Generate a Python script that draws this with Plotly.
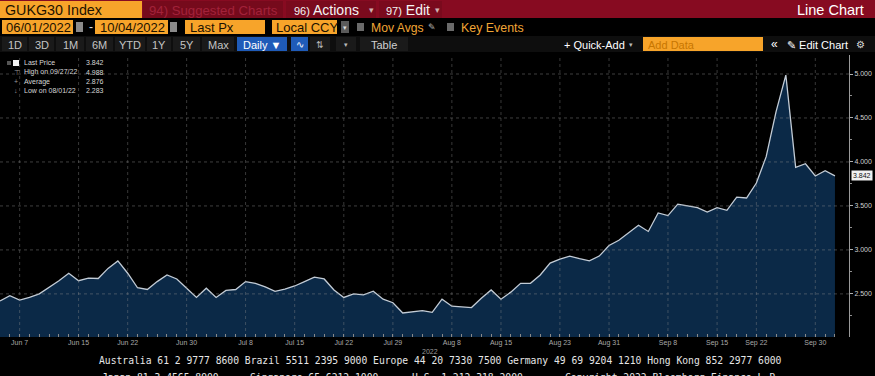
import pandas as pd
import plotly.graph_objects as go

# ---------------- data ----------------
uk_holidays = ["2022-06-02", "2022-06-03", "2022-08-29", "2022-09-19"]
trade_days = pd.bdate_range("2022-06-01", "2022-10-04", freq="C", holidays=uk_holidays)
dates = [d.strftime("%Y-%m-%d") for d in trade_days]

yields = [
    2.42, 2.48, 2.43, 2.46, 2.50, 2.57, 2.65, 2.735, 2.65, 2.68,
    2.675, 2.79, 2.875, 2.735, 2.57, 2.55, 2.64, 2.715, 2.67, 2.565,
    2.46, 2.565, 2.46, 2.54, 2.55, 2.64, 2.62, 2.58, 2.53, 2.555,
    2.59, 2.64, 2.69, 2.67, 2.545, 2.46, 2.50, 2.49, 2.53, 2.44,
    2.40, 2.283, 2.30, 2.31, 2.29, 2.44, 2.36, 2.35, 2.345, 2.45,
    2.545, 2.44, 2.52, 2.62, 2.62, 2.715, 2.85, 2.895, 2.93, 2.90,
    2.875, 2.93, 3.05, 3.11, 3.20, 3.28, 3.21, 3.42, 3.39, 3.52,
    3.50, 3.48, 3.43, 3.48, 3.45, 3.60, 3.59, 3.76, 4.06, 4.57,
    4.988, 3.94, 3.98, 3.84, 3.90, 3.842,
]

tick_dates = ["2022-06-07", "2022-06-15", "2022-06-22", "2022-06-30", "2022-07-08",
              "2022-07-15", "2022-07-22", "2022-07-29", "2022-08-08", "2022-08-15",
              "2022-08-23", "2022-08-31", "2022-09-08", "2022-09-15", "2022-09-22",
              "2022-09-30"]
tick_labels = ["Jun 7", "Jun 15", "Jun 22", "Jun 30", "Jul 8", "Jul 15", "Jul 22", "Jul 29",
               "Aug 8", "Aug 15", "Aug 23", "Aug 31", "Sep 8", "Sep 15", "Sep 22", "Sep 30"]
y_ticks = [2.5, 3.0, 3.5, 4.0, 4.5, 5.0]
y_minor = [2.25, 2.75, 3.25, 3.75, 4.25, 4.75]

# ---------------- layout geometry ----------------
W, H = 875, 376
L, R, T, B = 0, 26, 55, 39
PW, PH = W - L - R, H - T - B


def px(x):
    return (x - L) / PW


def py(y):
    return (H - B - y) / PH


SANS = "Liberation Sans, Arial, sans-serif"
MONO = "DejaVu Sans Mono, monospace"
ORANGE = "#f7a42a"
CRIMSON = "#870b21"

shapes = []
annos = []


def rect(x0, y0, x1, y1, color):
    shapes.append(dict(type="rect", xref="paper", yref="paper",
                       x0=px(x0), x1=px(x1), y0=py(y1), y1=py(y0),
                       fillcolor=color, line=dict(width=0), layer="above"))


def text(x, y, s, size=12, color="#ffffff", anchor="left", family=SANS):
    annos.append(dict(xref="paper", yref="paper", x=px(x), y=py(y), text=s,
                      showarrow=False, xanchor=anchor, yanchor="middle",
                      font=dict(size=size, color=color, family=family)))


# ---- header row 1 ----
rect(0, 0, 875, 18, CRIMSON)
rect(143, 1, 283, 18, "#760a1c")
rect(286, 1, 376, 18, "#7a0a1d")
rect(379, 1, 442, 18, "#7a0a1d")
rect(0, 1, 142, 18, ORANGE)
text(3, 10, "GUKG30 Index", 14.3, "#1d1200")
text(147, 10, "94) Suggested Charts", 13.2, "#a3223a")
text(292, 10, "<span style='font-size:11px'>96)</span> Actions", 14, "#f4f4f4")
text(367, 10, "▾", 9, "#d0b0b0")
text(384, 10, "<span style='font-size:11px'>97)</span> Edit", 14, "#f4f4f4")
text(433, 10, "▾", 9, "#d0b0b0")
text(866, 10, "Line Chart", 14.5, "#ffffff", anchor="right")

# ---- header row 2 ----
rect(2, 20, 73, 34, ORANGE)
text(4, 27.5, "06/01/2022", 13, "#1d1200")
rect(76, 22, 83, 32, "#8a8a8a")
text(87, 27, "-", 12, "#e0e0e0")
rect(95, 20, 168, 34, ORANGE)
text(98, 27.5, "10/04/2022", 13, "#1d1200")
rect(170, 22, 177, 32, "#8a8a8a")
rect(185, 20, 265, 34, ORANGE)
text(188, 27.5, "Last Px", 13, "#1d1200")
rect(272, 20, 337, 34, ORANGE)
text(274, 27.5, "Local CCY", 13, "#1d1200")
rect(341, 21, 349, 33, "#5a5a5a")
text(345, 27.5, "▾", 7, "#dddddd", anchor="center")
rect(357, 23, 364, 31, "#6a6a6a")
text(369, 27.5, "Mov Avgs", 12.2, "#f0a535")
text(426, 27, "✎", 9, "#bbbbbb")
rect(447, 23, 454, 31, "#6a6a6a")
text(459, 27.5, "Key Events", 12.4, "#f0a535")

# ---- header row 3 ----
rect(0, 36, 875, 52, "#0e0e0e")
for lab, x0, x1 in [("1D", 2, 27), ("3D", 29, 54), ("1M", 56, 84), ("6M", 86, 113),
                    ("YTD", 115, 145), ("1Y", 147, 171), ("5Y", 173, 200), ("Max", 202, 234)]:
    rect(x0, 37, x1, 51, "#1a1a1a")
    text((x0 + x1) / 2, 44.5, lab, 11, "#c4c4c4", anchor="center")
rect(237, 37, 287, 51, "#1f5bb8")
text(241, 44.5, "Daily ▼", 11, "#ffffff")
rect(291, 37, 308, 51, "#1f5bb8")
text(299.5, 44.5, "∿", 10, "#ffffff", anchor="center")
rect(310, 37, 330, 51, "#1a1a1a")
text(320, 44.5, "⇅", 9, "#bbbbbb", anchor="center")
rect(336, 37, 356, 51, "#1a1a1a")
text(346, 44.5, "▾", 7, "#bbbbbb", anchor="center")
rect(360, 37, 408, 51, "#1a1a1a")
text(384, 44.5, "Table", 11, "#d0d0d0", anchor="center")
text(562, 44.5, "+ Quick-Add", 11, "#ffffff")
text(627, 44.5, "▾", 7, "#bbbbbb")
rect(643, 37, 763, 51, ORANGE)
text(646, 44.5, "Add Data", 11, "#c87600")
text(769, 44, "«", 12, "#ffffff")
text(785, 44.5, "✎ Edit Chart", 11, "#ffffff")
text(860, 44, "⚙", 10, "#dddddd", anchor="center")

# ---- in-chart legend (values derived from the series) ----
last_v = yields[-1]
hi_i = max(range(len(yields)), key=lambda i: yields[i])
lo_i = min(range(len(yields)), key=lambda i: yields[i])
avg_v = sum(yields) / len(yields)


def mdy(d):
    return pd.Timestamp(d).strftime("%m/%d/%y")


leg_rows = [("Last Price", last_v), ("High on " + mdy(dates[hi_i]), yields[hi_i]),
            ("Average", avg_v), ("Low on " + mdy(dates[lo_i]), yields[lo_i])]
leg_y = [62.5, 72, 81.5, 90.5]
for (lab, v), yy in zip(leg_rows, leg_y):
    text(22, yy, lab, 7, "#d6d6d6")
    text(106, yy, f"{v:.3f}", 7, "#d6d6d6", anchor="right")
rect(13, 60, 19, 66, "#f2f2f2")
rect(7, 61, 11, 65, "#555555")
text(12, 72, "⊤", 7, "#9a9a9a")
text(12, 81.5, "+", 7, "#9a9a9a")
text(12, 90.5, "↓", 7, "#9a9a9a")

# ---- footer ----
text(430, 351, "2022", 7, "#9a9a9a", anchor="center")
text(97, 360, "Australia 61 2 9777 8600 Brazil 5511 2395 9000 Europe 44 20 7330 7500 "
     "Germany 49 69 9204 1210 Hong Kong 852 2977 6000", 9.7, "#e6e6e6", family=MONO)
for s, x in [("Japan 81 3 4565 8900", 100), ("Singapore 65 6212 1000", 248),
             ("U.S. 1 212 318 2000", 410), ("Copyright 2022 Bloomberg Finance L.P.", 563)]:
    text(x, 377.5, s, 9.7, "#e6e6e6", family=MONO)

# ---- dotted grid drawn over the fill ----
for v in y_ticks:
    shapes.append(dict(type="line", xref="paper", yref="y", x0=0, x1=1, y0=v, y1=v,
                       line=dict(color="rgba(140,140,140,0.45)", width=1, dash="dot"),
                       layer="above"))
for d in tick_dates:
    i = dates.index(d)
    shapes.append(dict(type="line", xref="x", yref="paper", x0=i, x1=i, y0=0, y1=1,
                       line=dict(color="rgba(140,140,140,0.40)", width=1, dash="dot"),
                       layer="above"))

# last-price marker on the axis
annos.append(dict(xref="paper", yref="y", x=px(851), y=last_v, text=f"{last_v:.3f}",
                  showarrow=False, xanchor="left", yanchor="middle",
                  bgcolor="#f0f0f0", borderpad=1,
                  font=dict(size=7, color="#111111", family=SANS)))

tick_map = dict(zip(tick_dates, tick_labels))

fig = go.Figure()
fig.add_trace(go.Scatter(
    x=dates, y=yields, mode="lines",
    line=dict(color="#c3ccd6", width=1.3),
    fill="tozeroy", fillcolor="#0b2947",
    hoverinfo="skip", showlegend=False,
))

fig.update_layout(
    width=W, height=H, autosize=False,
    margin=dict(l=L, r=R, t=T, b=B, pad=0),
    paper_bgcolor="#000000", plot_bgcolor="#000000",
    showlegend=False,
    shapes=shapes, annotations=annos,
    xaxis=dict(
        type="category", range=[0, 86.43],
        tickmode="array", tickvals=dates,
        ticktext=[tick_map.get(d, "") for d in dates],
        ticks="inside", ticklen=3, tickcolor="#8a8a8a", tickwidth=1,
        tickfont=dict(size=7, color="#a8a8a8", family=SANS),
        tickangle=0,
        showgrid=False, zeroline=False, showline=False,
    ),
    yaxis=dict(
        side="right", range=[2.01, 5.216],
        tickmode="array", tickvals=y_ticks, ticktext=[f"{v:.3f}" for v in y_ticks],
        ticks="outside", ticklen=3, tickcolor="#b0b0b0",
        minor=dict(tickvals=y_minor, ticks="outside", ticklen=2, tickcolor="#909090"),
        tickfont=dict(size=7, color="#cfcfcf", family=SANS),
        showline=True, linecolor="#9a9a9a", linewidth=1,
        showgrid=False, zeroline=False,
    ),
)

fig.write_html("out.html", config={"displayModeBar": False},
               post_script="document.body.style.margin='0';document.body.style.overflow='hidden';")
